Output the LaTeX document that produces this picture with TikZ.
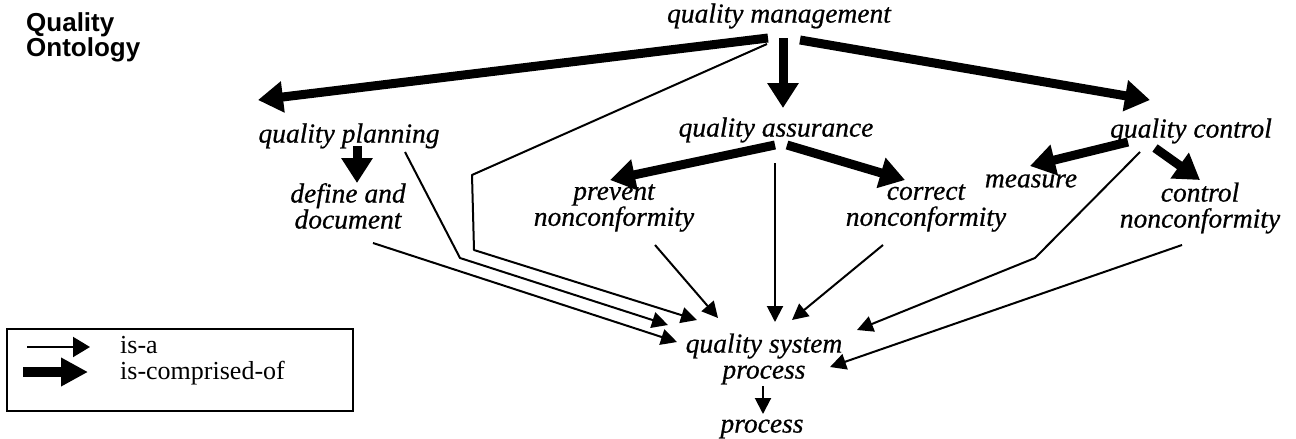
\documentclass[tikz,border=0pt]{standalone}
\usepackage{fontspec}
\setmainfont{Liberation Serif}
\newfontfamily\titlefont{Liberation Sans}
\newfontfamily\lblfont[FakeBold=0.6]{Liberation Serif}
\usetikzlibrary{arrows.meta,calc}
\begin{document}
\begin{tikzpicture}[x=1pt,y=-1pt,
  lbl/.style={font=\lblfont\fontsize{27.5}{26}\selectfont\itshape, inner sep=0pt, align=center},
  comp/.style={line width=9pt, -{Triangle[length=25pt,width=30pt]}},
  isa/.style={line width=2pt, line join=round, -{Triangle[length=16pt,width=16pt]}},
  legtext/.style={font=\rmfamily\fontsize{26}{26}\selectfont, inner sep=0pt, anchor=base west}]
\useasboundingbox (0,0) rectangle (1296,439);
\fill[white] (0,0) rectangle (1296,439);

% title
\node[font=\titlefont\bfseries\fontsize{26}{20}\selectfont, align=left, inner sep=0pt, anchor=north west] (title) at (26,12) {Quality\\Ontology};

% nodes
\node[lbl] (qm) at (779,16) {quality management};
\node[lbl] (qp) at (349,136) {quality planning};
\node[lbl] (qa) at (776,130) {quality assurance};
\node[lbl] (qc) at (1191,131) {quality control};
\node[lbl] (me) at (1031,181) {measure};
\node[lbl] (dd) at (348,206) {define and\\document};
\node[lbl] (pn) at (614,208) {prevent\\nonconformity};
\node[lbl] (cn) at (926,208) {correct\\nonconformity};
\node[lbl] (ctn) at (1200,208) {control\\nonconformity};
\node[lbl] (qsp) at (764,359) {quality system\\process};
\node[lbl] (pr) at (762,429) {process};

% is-comprised-of
\draw[comp] ($(qm)+(-11,22)$) -- ($(qp)+(-91,-36)$);
\draw[comp] ($(qm)+(4,22)$) -- ($(qa)+(7,-22)$);
\draw[comp] ($(qm)+(21,24)$) -- ($(qc)+(-41,-31)$);
\draw[comp] ($(qa)+(-1,15)$) -- ($(pn)+(-4,-28)$);
\draw[comp] ($(qa)+(11,15)$) -- ($(cn)+(-21,-28)$);
\draw[comp] ($(qc)+(-63,11)$) -- ($(me)+(-1,-15)$);
\draw[comp] ($(qc)+(-36,17)$) -- ($(ctn)+(0,-28)$);
\draw[comp] ($(qp)+(8,10)$) -- ($(dd)+(9,-23)$);

% is-a
\draw[isa] ($(qp)+(56,16)$) -- (460,258) -- ($(qsp)+(-96,-34)$);
\draw[isa] ($(qm)+(-12,28)$) -- (472,175) -- (474,250) -- ($(qsp)+(-67,-39)$);
\draw[isa] ($(pn)+(41,37)$) -- ($(qsp)+(-46,-41)$);
\draw[isa] ($(qa)+(-1,33)$) -- ($(qsp)+(11,-37)$);
\draw[isa] ($(cn)+(-43,37)$) -- ($(qsp)+(28,-39)$);
\draw[isa] ($(qc)+(-51,21)$) -- (1035,258) -- ($(qsp)+(93,-29)$);
\draw[isa] ($(ctn)+(-18,37)$) -- ($(qsp)+(66,8)$);
\draw[isa] ($(dd)+(25,37)$) -- ($(qsp)+(-87,-17)$);
\draw[isa] ($(qsp)+(-1,27)$) -- ($(pr)+(1,-15)$);

% legend
\node[draw, line width=1.5pt, minimum width=346pt, minimum height=82pt, inner sep=0pt, anchor=north west] (leg) at (6,328) {};
\coordinate (la1) at (27,347); \coordinate (la2) at (90,347);
\coordinate (lb1) at (23,372); \coordinate (lb2) at (88,372);
\draw[line width=2pt, -{Triangle[length=17pt,width=20pt]}] (la1) -- (la2);
\draw[line width=10pt, -{Triangle[length=27pt,width=27pt]}] (lb1) -- (lb2);
\node[legtext] (lt1) at (120,353) {is-a};
\node[legtext] (lt2) at (120,379) {is-comprised-of};
\end{tikzpicture}
\end{document}
